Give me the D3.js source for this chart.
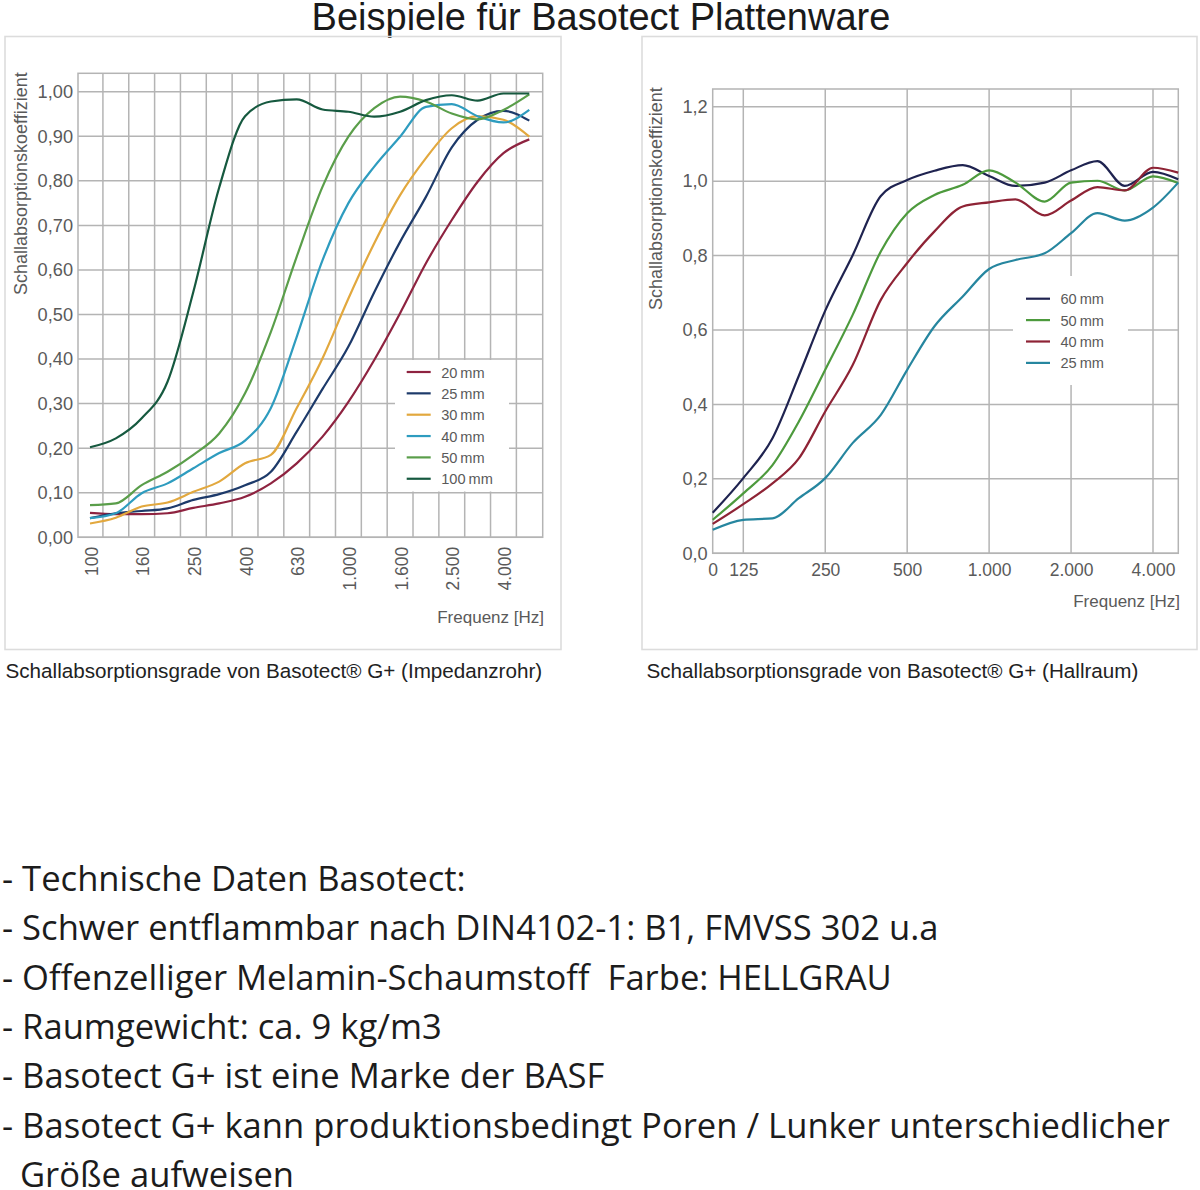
<!DOCTYPE html>
<html>
<head>
<meta charset="utf-8">
<script src="https://cdn.jsdelivr.net/npm/d3@7"></script>
<style>
  html, body { margin: 0; padding: 0; background: #fff; }
  svg { display: block; }
  .sans { font-family: "Liberation Sans", Arial, sans-serif; }
  .body { font-family: "Open Sans", sans-serif; fill: #1c1c1c; }
  .tick text { font-family: "Liberation Sans", Arial, sans-serif; fill: #5a5a5a; }
</style>
</head>
<body>
<svg id="page" width="1200" height="1190"></svg>
<script>
/* chart values */
var impedanceFreqs = [100,125,160,200,250,315,400,500,630,800,1000,1250,1600,2000,2500,3150,4000,5000];
var impedanceTicks = [100,160,250,400,630,1000,1600,2500,4000];
var impedanceTickLabels = ["100","160","250","400","630","1.000","1.600","2.500","4.000"];
var impedanceYTicks = [0,0.1,0.2,0.3,0.4,0.5,0.6,0.7,0.8,0.9,1];

var imp20 = [0.055,0.052,0.052,0.054,0.066,0.076,0.091,0.121,0.166,0.226,0.304,0.398,0.503,0.615,0.712,0.798,0.862,0.893];
var imp25 = [0.043,0.054,0.059,0.065,0.084,0.097,0.117,0.147,0.237,0.333,0.428,0.550,0.663,0.764,0.875,0.937,0.957,0.935];
var imp30 = [0.031,0.044,0.069,0.078,0.102,0.125,0.166,0.185,0.290,0.402,0.536,0.660,0.768,0.851,0.918,0.945,0.937,0.899];
var imp40 = [0.043,0.054,0.099,0.121,0.155,0.189,0.217,0.290,0.450,0.622,0.750,0.832,0.899,0.966,0.972,0.945,0.931,0.959];
var imp50 = [0.072,0.076,0.117,0.147,0.185,0.233,0.323,0.461,0.630,0.787,0.899,0.963,0.989,0.978,0.951,0.938,0.959,0.994];
var imp100 = [0.202,0.222,0.267,0.349,0.551,0.785,0.945,0.978,0.983,0.960,0.955,0.944,0.955,0.981,0.992,0.980,0.996,0.996];

var hallFreqs = [96.5,125,160,200,250,315,400,500,630,800,1000,1250,1600,2000,2500,3150,4000,4950];
var hallTicks = [96.5,125,250,500,1000,2000,4000];
var hallTickLabels = ["0","125","250","500","1.000","2.000","4.000"];
var hallGrid = [125,250,500,1000,2000,4000];
var hallYTicks = [0,0.2,0.4,0.6,0.8,1,1.2];

var hall60 = [0.109,0.202,0.309,0.477,0.652,0.800,0.960,1.003,1.028,1.043,1.014,0.987,0.996,1.029,1.054,0.987,1.025,1.005];
var hall50 = [0.090,0.161,0.237,0.354,0.493,0.640,0.811,0.914,0.963,0.990,1.029,0.996,0.945,0.996,1.001,0.975,1.013,0.995];
var hall40 = [0.079,0.132,0.188,0.255,0.381,0.505,0.681,0.780,0.865,0.932,0.943,0.951,0.908,0.948,0.984,0.975,1.036,1.023];
var hall25 = [0.063,0.090,0.094,0.148,0.202,0.296,0.372,0.493,0.610,0.690,0.764,0.788,0.806,0.860,0.914,0.894,0.929,0.996];

var impedanceNames = ["20\u2009mm","25\u2009mm","30\u2009mm","40\u2009mm","50\u2009mm","100\u2009mm"];
var impedanceColors = ["#8e2340","#1d3a6a","#e2a83e","#2e9cbf","#5a9e4a","#16593f"];
var hallNames = ["60\u2009mm","50\u2009mm","40\u2009mm","25\u2009mm"];
var hallColors = ["#1f2350","#4d9a3d","#8e2335","#26869f"];

var bodyLines = [
  "- Technische Daten Basotect:",
  "- Schwer entflammbar nach DIN4102-1: B1, FMVSS 302 u.a",
  "- Offenzelliger Melamin-Schaumstoff  Farbe: HELLGRAU",
  "- Raumgewicht: ca. 9 kg/m3",
  "- Basotect G+ ist eine Marke der BASF",
  "- Basotect G+ kann produktionsbedingt Poren / Lunker unterschiedlicher",
  "  Größe aufweisen"
];

var svg = d3.select("#page");
var gridColor = "#b4b4b4";
var frameColor = "#dcdcdc";

svg.append("text")
  .attr("class", "sans")
  .attr("x", 601)
  .attr("y", 30)
  .attr("text-anchor", "middle")
  .attr("font-size", 38)
  .attr("fill", "#1a1a1a")
  .text("Beispiele für Basotect Plattenware");

/* outer frame, captions and the two axis titles of one panel */
function drawPanel(p){
  svg.append("rect")
    .attr("x", p.frame[0])
    .attr("y", p.frame[1])
    .attr("width", p.frame[2] - p.frame[0])
    .attr("height", p.frame[3] - p.frame[1])
    .attr("fill", "none")
    .attr("stroke", frameColor)
    .attr("stroke-width", 1.6);

  svg.append("text")
    .attr("class", "sans")
    .attr("x", p.captionX)
    .attr("y", 678)
    .attr("font-size", 20.65)
    .attr("fill", "#222")
    .text(p.caption);

  svg.append("text")
    .attr("class", "sans")
    .attr("transform", "translate(" + p.yTitleX + "," + p.yTitleY + ") rotate(-90)")
    .attr("font-size", 18)
    .attr("fill", "#5a5a5a")
    .text("Schallabsorptionskoeffizient");

  svg.append("text")
    .attr("class", "sans")
    .attr("x", p.xTitleX)
    .attr("y", p.xTitleY)
    .attr("text-anchor", "end")
    .attr("font-size", 17)
    .attr("fill", "#5a5a5a")
    .text("Frequenz [Hz]");
}

/* plot border and grid lines, gridX are pixel positions from the x scale */
function drawGrid(box, gridX, y, yTicks, mask){
  var g = svg.append("g")
    .attr("stroke", gridColor)
    .attr("stroke-width", 1.5)
    .attr("fill", "none");

  g.selectAll("line.v")
    .data(gridX)
    .enter()
    .append("line")
    .attr("x1", function(d){ return d; })
    .attr("x2", function(d){ return d; })
    .attr("y1", box.top)
    .attr("y2", box.bottom);

  g.selectAll("line.h")
    .data(yTicks)
    .enter()
    .append("line")
    .attr("x1", box.left)
    .attr("x2", box.right)
    .attr("y1", function(d){ return y(d); })
    .attr("y2", function(d){ return y(d); });

  g.append("rect")
    .attr("x", box.left)
    .attr("y", box.top)
    .attr("width", box.right - box.left)
    .attr("height", box.bottom - box.top);

  // the legend sits on a white patch that cuts the grid
  svg.append("rect")
    .attr("x", mask[0])
    .attr("y", mask[1])
    .attr("width", mask[2] - mask[0])
    .attr("height", mask[3] - mask[1])
    .attr("fill", "#fff");
}

function drawLines(series, colors, x, y, freqs){
  var line = d3.line()
    .x(function(d, i){ return x(freqs[i]); })
    .y(function(d){ return y(d); })
    .curve(d3.curveMonotoneX);

  svg.append("g").selectAll("path")
    .data(series)
    .enter()
    .append("path")
    .attr("d", line)
    .attr("fill", "none")
    .attr("stroke-width", 2.2)
    .attr("stroke", function(d, i){ return colors[i]; });
}

function drawLegend(names, colors, x0, y0, step){
  var rows = svg.append("g").selectAll("g")
    .data(names)
    .enter()
    .append("g")
    .attr("transform", function(d, i){ return "translate(" + x0 + "," + (y0 + step * i) + ")"; });

  rows.append("line")
    .attr("x2", 24)
    .attr("stroke-width", 2.2)
    .attr("stroke", function(d, i){ return colors[i]; });

  rows.append("text")
    .attr("class", "sans")
    .attr("x", 34.5)
    .attr("y", 5.5)
    .attr("font-size", 14.6)
    .attr("fill", "#5a5a5a")
    .text(function(d){ return d; });
}

/****** left chart: impedance tube ******/
var leftBox = {left: 78, right: 542.7, top: 73.3, bottom: 537.3};
var leftX = d3.scalePoint().domain(impedanceFreqs).range([90, 529.3]);
var leftY = d3.scaleLinear().domain([0, 1]).range([537.3, 91.7]);
var leftGrid = impedanceFreqs.slice(0, -1).map(function(f, i){
  return (leftX(f) + leftX(impedanceFreqs[i + 1])) / 2;
});

drawPanel({
  frame: [5, 36.5, 561, 649.5],
  caption: "Schallabsorptionsgrade von Basotect® G+ (Impedanzrohr)",
  captionX: 5.5,
  yTitleX: 27, yTitleY: 295,
  xTitleX: 544, xTitleY: 623
});
drawGrid(leftBox, leftGrid, leftY, impedanceYTicks, [395, 360, 509, 491.5]);
drawLines([imp20, imp25, imp30, imp40, imp50, imp100], impedanceColors, leftX, leftY, impedanceFreqs);
drawLegend(impedanceNames, impedanceColors, 406.7, 372, 21.35);

svg.append("g")
  .attr("transform", "translate(" + leftBox.left + ",0)")
  .call(d3.axisLeft(leftY)
    .tickValues(impedanceYTicks)
    .tickSize(0)
    .tickPadding(5)
    .tickFormat(function(d){ return d3.format(".2f")(d).replace(".", ","); }))
  .call(function(g){
    g.select(".domain").remove();
    g.selectAll("text").attr("font-size", 18.2);
  });

svg.append("g")
  .attr("transform", "translate(1," + leftBox.bottom + ")")
  .call(d3.axisBottom(leftX)
    .tickValues(impedanceTicks)
    .tickSize(0)
    .tickFormat(function(d, i){ return impedanceTickLabels[i]; }))
  .call(function(g){
    g.select(".domain").remove();
    g.selectAll("text")
      .attr("font-size", 17.5)
      .attr("text-anchor", "end")
      .attr("transform", "rotate(-90)")
      .attr("x", -9.5)
      .attr("y", 0)
      .attr("dy", "0.35em");
  });

/****** right chart: reverberation room ******/
var rightBox = {left: 712.7, right: 1178.3, top: 89, bottom: 553.3};
var rightX = d3.scaleLog().domain([125, 4000]).range([743.3, 1153]);
var rightY = d3.scaleLinear().domain([0, 1.2]).range([553.3, 106.7]);

drawPanel({
  frame: [642, 36.5, 1197, 649.5],
  caption: "Schallabsorptionsgrade von Basotect® G+ (Hallraum)",
  captionX: 646.5,
  yTitleX: 661.5, yTitleY: 310,
  xTitleX: 1180, xTitleY: 607
});
drawGrid(rightBox, hallGrid.map(rightX), rightY, hallYTicks, [1013, 276, 1128, 385]);
drawLines([hall60, hall50, hall40, hall25], hallColors, rightX, rightY, hallFreqs);
drawLegend(hallNames, hallColors, 1026, 298.7, 21.4);

svg.append("g")
  .attr("transform", "translate(" + rightBox.left + ",0)")
  .call(d3.axisLeft(rightY)
    .tickValues(hallYTicks)
    .tickSize(0)
    .tickPadding(5)
    .tickFormat(function(d){ return d3.format(".1f")(d).replace(".", ","); }))
  .call(function(g){
    g.select(".domain").remove();
    g.selectAll("text").attr("font-size", 18.2);
  });

svg.append("g")
  .attr("transform", "translate(0," + rightBox.bottom + ")")
  .call(d3.axisBottom(rightX)
    .tickValues(hallTicks)
    .tickSize(0)
    .tickPadding(10)
    .tickFormat(function(d, i){ return hallTickLabels[i]; }))
  .call(function(g){
    g.select(".domain").remove();
    g.selectAll("text").attr("font-size", 17.5);
  });

/****** text block below the charts ******/
svg.append("g").selectAll("text")
  .data(bodyLines)
  .enter()
  .append("text")
  .attr("class", "body")
  .attr("x", 2)
  .attr("y", function(d, i){ return 891 + 49.35 * i; })
  .attr("font-size", 34.6)
  .attr("xml:space", "preserve")
  .style("white-space", "pre")
  .text(function(d){ return d; });
</script>
</body>
</html>
